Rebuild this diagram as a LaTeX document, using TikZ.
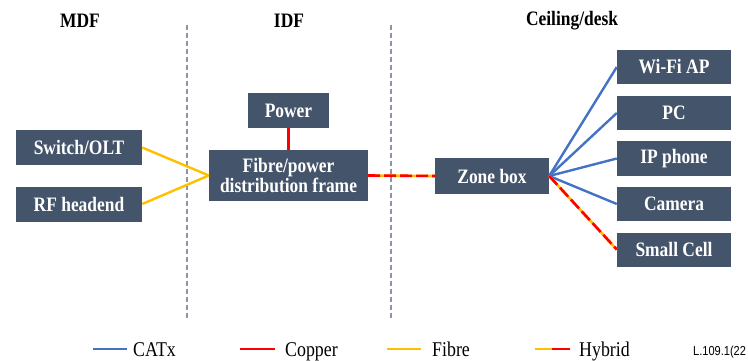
\documentclass[tikz,border=0pt]{standalone}
\usepackage{graphicx}
\usepackage{fontspec}
\setmainfont{Liberation Serif}
\setsansfont{Liberation Sans}
\newcommand{\sqz}[1]{\scalebox{0.85}[1]{#1}}
\definecolor{boxc}{HTML}{44546A}
\definecolor{catx}{HTML}{4472C4}
\definecolor{copper}{HTML}{FF0000}
\definecolor{fibre}{HTML}{FFC000}
\definecolor{divc}{HTML}{8A96A3}
\begin{document}
\begin{tikzpicture}[x=1pt,y=-1pt,
  box/.style={fill=boxc, text=white, inner sep=0pt, align=center,
    font=\fontsize{20.5}{20}\selectfont\bfseries},
  title/.style={font=\fontsize{20.5}{22}\selectfont\bfseries, inner sep=0pt, anchor=base},
  legtext/.style={font=\fontsize{21}{22}\selectfont, inner sep=0pt, anchor=base west},
  divider/.style={draw=divc, line width=1.1pt, dash pattern=on 5pt off 3pt},
  catxl/.style={draw=catx, line width=2.4pt},
  copperl/.style={draw=copper, line width=2.4pt},
  fibrel/.style={draw=fibre, line width=2.4pt},
  hybbase/.style={draw=fibre, line width=2.6pt},
  hybtop/.style={draw=copper, line width=2.6pt, dash pattern=on 12pt off 4pt}
]
\useasboundingbox (0,0) rectangle (748,361);
\clip (0,0) rectangle (748,361);

% titles
\node[title] (tmdf) at (80,28) {\sqz{MDF}};
\node[title] (tidf) at (289,28) {\sqz{IDF}};
\node[title] (tceil) at (572,26) {\sqz{Ceiling/desk}};

% dividers
\coordinate (d1a) at (187,25); \coordinate (d1b) at (187,319);
\coordinate (d2a) at (391,25); \coordinate (d2b) at (391,319);
\draw[divider] (d1a) -- (d1b);
\draw[divider] (d2a) -- (d2b);

% boxes
\node[box, minimum width=126pt, minimum height=35pt] (sw) at (79,147.5) {\sqz{Switch/OLT}};
\node[box, minimum width=126pt, minimum height=35pt] (rf) at (79,204) {\sqz{RF headend}};
\node[box, minimum width=81pt, minimum height=35pt] (pw) at (288.5,110.5) {\sqz{Power}};
\node[box, minimum width=159pt, minimum height=51pt] (fr) at (288.5,175.5) {\sqz{Fibre/power}\\\sqz{distribution frame}};
\node[box, minimum width=114pt, minimum height=36pt] (zb) at (492,176) {\sqz{Zone box}};
\node[box, minimum width=114pt, minimum height=34pt] (wifi) at (674,67) {\sqz{Wi-Fi AP}};
\node[box, minimum width=114pt, minimum height=34pt] (pc) at (674,113) {\sqz{PC}};
\node[box, minimum width=114pt, minimum height=34pt] (ip) at (674,158.5) {\sqz{IP phone}};
\node[box, minimum width=114pt, minimum height=34pt] (cam) at (674,204) {\sqz{Camera}};
\node[box, minimum width=114pt, minimum height=34pt] (sc) at (674,249.5) {\sqz{Small Cell}};

% connectors
\draw[fibrel] (sw.east) -- (fr.west);
\draw[fibrel] (rf.east) -- (fr.west);
\draw[copperl] (pw.south) -- (fr.north);
\draw[hybbase] (fr.east) -- (zb.west);
\draw[hybtop] (fr.east) -- (zb.west);
\draw[catxl] (zb.east) -- (wifi.west);
\draw[catxl] (zb.east) -- (pc.west);
\draw[catxl] (zb.east) -- (ip.west);
\draw[catxl] (zb.east) -- (cam.west);
\draw[hybbase] (zb.east) -- (sc.west);
\draw[hybtop] (zb.east) -- (sc.west);

% legend
\coordinate (l1a) at (93,349); \coordinate (l1b) at (127,349);
\draw[catxl] (l1a) -- (l1b);
\node[legtext] (t1) at (133,356) {\sqz{CATx}};
\coordinate (l2a) at (240,349); \coordinate (l2b) at (275,349);
\draw[copperl] (l2a) -- (l2b);
\node[legtext] (t2) at (285,356) {\sqz{Copper}};
\coordinate (l3a) at (387,349); \coordinate (l3b) at (421,349);
\draw[fibrel] (l3a) -- (l3b);
\node[legtext] (t3) at (432,356) {\sqz{Fibre}};
\coordinate (l4a) at (535,349); \coordinate (l4m) at (552,349); \coordinate (l4b) at (570,349);
\draw[fibrel] (l4a) -- (l4m);
\draw[copperl] (l4m) -- (l4b);
\node[legtext] (t4) at (579,356) {\sqz{Hybrid}};
\node[inner sep=0pt, anchor=base west, font=\sffamily\fontsize{13}{14}\selectfont] (ref) at (693,355) {\sqz{L.109.1(22}};
\end{tikzpicture}
\end{document}
